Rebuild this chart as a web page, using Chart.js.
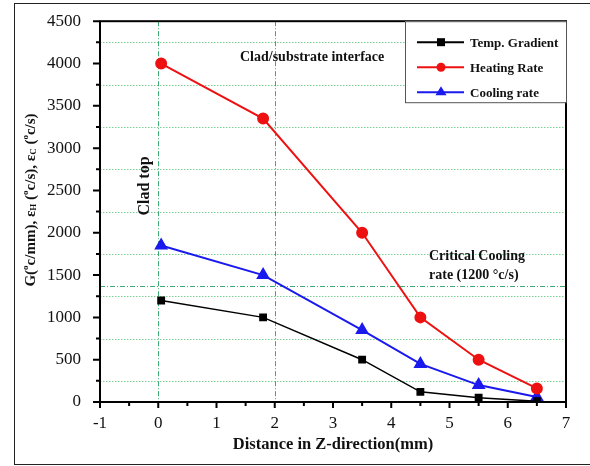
<!DOCTYPE html>
<html>
<head>
<meta charset="utf-8">
<script src="https://cdn.jsdelivr.net/npm/chart.js@4.4.1/dist/chart.umd.min.js"></script>
<style>
  html, body { margin: 0; padding: 0; background: #fff; }
  #wrap { width: 590px; height: 466px; }
</style>
</head>
<body>
<div id="wrap"><canvas id="c" width="590" height="466"></canvas></div>
<script>
// data
const distance = [0.05, 1.8, 3.5, 4.5, 5.5, 6.5];
const tempGradient = [1200, 1000, 500, 120, 50, 10];
const heatingRate = [4000, 3350, 2000, 1000, 500, 160];
const coolingRate = [1850, 1500, 850, 450, 200, 60];
const seriesNames = ['Temp. Gradient', 'Heating Rate', 'Cooling rate'];
const criticalLine = 1370;
const markerX = [0, 2];
const minorGridY = [250, 750, 1250, 1750, 2250, 2750, 3250, 3750, 4250];

const serif = "'Liberation Serif', 'DejaVu Serif', serif";
const green = 'rgba(40,160,100,0.9)';

function pts(ys) {
  return distance.map((x, i) => ({ x: x, y: ys[i] }));
}

// frame, legend, notes and the odd y title
const extras = {
  id: 'extras',
  beforeDatasetsDraw(chart) {
    const ctx = chart.ctx, a = chart.chartArea;
    const xs = chart.scales.x, ys = chart.scales.y;
    ctx.save();
    // dotted minor grid
    ctx.strokeStyle = 'rgba(100,200,130,0.85)';
    ctx.lineWidth = 1;
    ctx.setLineDash([1.5, 1.5]);
    minorGridY.forEach(v => {
      const py = Math.round(ys.getPixelForValue(v)) + 0.5;
      ctx.beginPath(); ctx.moveTo(a.left, py); ctx.lineTo(a.right, py); ctx.stroke();
    });
    ctx.strokeStyle = green;
    ctx.setLineDash([5, 2, 1, 2]);
    markerX.forEach(v => {
      const px = Math.round(xs.getPixelForValue(v)) + 0.5;
      ctx.beginPath(); ctx.moveTo(px, a.top); ctx.lineTo(px, a.bottom); ctx.stroke();
    });
    const py = Math.round(ys.getPixelForValue(criticalLine)) + 0.5;
    ctx.beginPath(); ctx.moveTo(a.left, py); ctx.lineTo(a.right, py); ctx.stroke();
    ctx.restore();
  },
  afterDraw(chart) {
    const ctx = chart.ctx, a = chart.chartArea;
    const xs = chart.scales.x, ys = chart.scales.y;
    ctx.save();
    // outer picture border
    ctx.strokeStyle = '#222';
    ctx.lineWidth = 1;
    ctx.strokeRect(14.5, 3.5, 600, 461);
    // plot frame
    ctx.strokeStyle = '#000';
    ctx.lineWidth = 2;
    ctx.strokeRect(a.left, a.top, a.right - a.left, a.bottom - a.top);

    // tick marks
    ctx.lineWidth = 2;
    ctx.beginPath();
    for (let v = -1; v <= 7.001; v += 0.5) {
      const px = xs.getPixelForValue(v);
      const len = Math.abs(v - Math.round(v)) < 0.01 ? 6 : 4;
      ctx.moveTo(px, a.bottom); ctx.lineTo(px, a.bottom + len);
    }
    for (let v = 0; v <= 4500; v += 250) {
      const py = ys.getPixelForValue(v);
      const len = v % 500 === 0 ? 7 : 4;
      ctx.moveTo(a.left, py); ctx.lineTo(a.left - len, py);
    }
    ctx.stroke();

    // legend box
    const lx = 405, ly = a.top, lw = a.right - lx, lh = 81;
    ctx.fillStyle = '#fff';
    ctx.fillRect(lx, ly, lw, lh);
    ctx.strokeStyle = '#555';
    ctx.lineWidth = 1;
    ctx.strokeRect(lx + 0.5, ly + 0.5, lw, lh);
    chart.data.datasets.slice(0, 3).forEach((ds, i) => {
      const cy = ly + 21 + i * 25;
      ctx.strokeStyle = ds.borderColor;
      ctx.lineWidth = 2;
      ctx.beginPath(); ctx.moveTo(417, cy); ctx.lineTo(464, cy); ctx.stroke();
      ctx.fillStyle = ds.borderColor;
      const mx = 441;
      if (ds.pointStyle === 'rect') {
        ctx.fillRect(mx - 4, cy - 4, 8, 8);
      } else if (ds.pointStyle === 'circle') {
        ctx.beginPath(); ctx.arc(mx, cy, 4.5, 0, Math.PI * 2); ctx.fill();
      } else {
        ctx.beginPath(); ctx.moveTo(mx, cy - 6); ctx.lineTo(mx + 5.5, cy + 3); ctx.lineTo(mx - 5.5, cy + 3); ctx.closePath(); ctx.fill();
      }
      ctx.fillStyle = '#111';
      ctx.font = 'bold 13px ' + serif;
      ctx.textAlign = 'left';
      ctx.textBaseline = 'middle';
      ctx.fillText(seriesNames[i], 470, cy + 1);
    });

    // notes
    ctx.fillStyle = '#111';
    ctx.font = 'bold 14px ' + serif;
    ctx.textBaseline = 'middle';
    ctx.textAlign = 'left';
    ctx.fillText('Clad/substrate interface', 240, 57);
    ctx.fillText('Critical Cooling', 429, 256);
    ctx.fillText('rate (1200 \u00B0c/s)', 429, 275);
    ctx.save();
    ctx.translate(145, 186);
    ctx.rotate(-Math.PI / 2);
    ctx.textAlign = 'center';
    ctx.font = 'bold 16px ' + serif;
    ctx.fillText('Clad top', 0, 0);
    ctx.restore();

    // y title with sub/superscripts
    const parts = [
      ['G(', 0], ['o', -1], ['c/mm), \u03B5', 0], ['H', 1], [' (', 0], ['o', -1], ['c/s), \u03B5', 0], ['C', 1], [' (', 0], ['o', -1], ['c/s)', 0]
    ];
    const big = 'bold 15px ' + serif, small = 'bold 9px ' + serif;
    let total = 0;
    parts.forEach(p => { ctx.font = p[1] ? small : big; total += ctx.measureText(p[0]).width; });
    ctx.save();
    ctx.translate(31, 200);
    ctx.rotate(-Math.PI / 2);
    ctx.textAlign = 'left';
    ctx.textBaseline = 'middle';
    let cx = -total / 2;
    parts.forEach(p => {
      ctx.font = p[1] ? small : big;
      const dy = p[1] === -1 ? -5 : (p[1] === 1 ? 3 : 0);
      ctx.fillText(p[0], cx, dy);
      cx += ctx.measureText(p[0]).width;
    });
    ctx.restore();
    ctx.restore();
  }
};

new Chart(document.getElementById('c'), {
  type: 'line',
  data: {
    datasets: [
      { label: seriesNames[0], data: pts(tempGradient), borderColor: '#000', backgroundColor: '#000',
        borderWidth: 1.5, pointStyle: 'rect', pointRadius: 4.5 },
      { label: seriesNames[1], data: pts(heatingRate), borderColor: '#ee1111', backgroundColor: '#ee1111',
        borderWidth: 2, pointStyle: 'circle', pointRadius: 5 },
      { label: seriesNames[2], data: pts(coolingRate), borderColor: '#1a1aee', backgroundColor: '#1a1aee',
        borderWidth: 2, pointStyle: 'triangle', pointRadius: 6 }
    ]
  },
  options: {
    responsive: false,
    animation: false,
    layout: { padding: { left: 0, right: 24, top: 18, bottom: 0 } },
    plugins: { legend: { display: false }, tooltip: { enabled: false } },
    scales: {
      x: {
        type: 'linear', min: -1, max: 7,
        afterFit(s) { s.height = 64; },
        ticks: { stepSize: 1, padding: 3, color: '#111', font: { family: serif, size: 17 } },
        grid: { display: false },
        border: { display: false },
        title: { display: true, text: 'Distance in Z-direction(mm)', color: '#111',
                 font: { family: serif, size: 16.5, weight: 'bold' }, padding: { top: 2, bottom: 11 } }
      },
      y: {
        min: 0, max: 4500,
        afterFit(s) { s.width = 100; },
        ticks: { stepSize: 500, padding: 11, color: '#111', font: { family: serif, size: 17 },
                 callback: v => String(v) },
        grid: { display: false },
        border: { display: false }
      }
    }
  },
  plugins: [extras]
});
</script>
</body>
</html>
